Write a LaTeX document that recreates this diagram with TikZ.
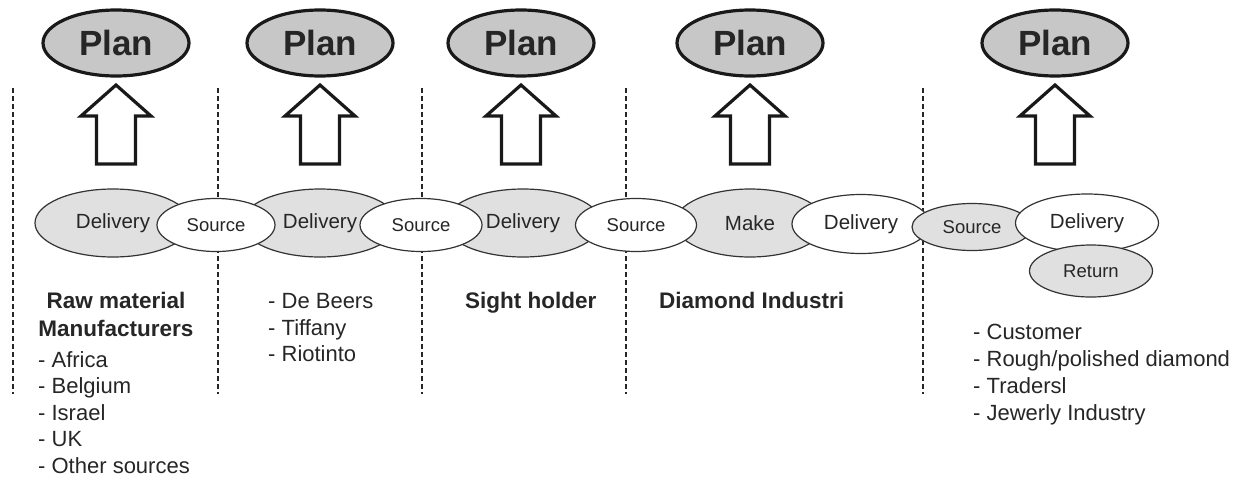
\documentclass[tikz,border=0pt]{standalone}
\usepackage{fontspec}
\setmainfont{Liberation Sans}
\usetikzlibrary{shapes.geometric,positioning}

\begin{document}
\begin{tikzpicture}[x=1pt,y=-1pt,
  every node/.style={text=black!85},
  plan/.style={ellipse,draw=black!90,line width=3.2pt,fill=black!22,inner sep=0pt,
    minimum width=146pt,minimum height=66pt,font=\fontsize{35}{35}\selectfont\bfseries},
  uparrow/.style={draw=black!90,line width=3.2pt,fill=white,line join=miter},
  divider/.style={draw=black!85,line width=2.4pt,dash pattern=on 5pt off 3pt},
  dims/.style 2 args={minimum width=#1pt,minimum height=#2pt},
  stage/.style={ellipse,draw=black!80,line width=1.2pt,inner sep=0pt,font=\fontsize{20.5}{20.5}\selectfont},
  grey/.style={stage,fill=black!12},
  white/.style={stage,fill=white},
  small/.style={font=\fontsize{18.5}{18.5}\selectfont},
  head/.style={anchor=base,inner sep=0pt,font=\fontsize{22.5}{22.5}\selectfont\bfseries},
  item/.style={anchor=base west,inner sep=0pt,font=\fontsize{22}{22}\selectfont}]

  \useasboundingbox (0,0) rectangle (1245,479);

  % dividers between the stages
  \foreach \x in {13,218,422,626,923}
    \draw[divider] (\x,88) -- (\x,394);

  % plan on top of every stage
  \foreach \x [count=\i] in {116,320,521,750,1055} {
    \node[plan] (plan\i) at (\x,43) {Plan};
    \draw[uparrow] (\x,85) -- ++(35,31) -- ++(-15.5,0) -- ++(0,48)
      -- ++(-39,0) -- ++(0,-48) -- ++(-15.5,0) -- cycle;
  }

  % chain of processes
  \node[grey,dims={156}{68}] (del1) at (113,223) {Delivery};
  \node[grey,dims={156}{68}] (del2) at (320,223) {Delivery};
  \node[grey,dims={156}{68}] (del3) at (523,223) {Delivery};
  \node[grey,dims={150}{68}] (make) at (750,223) {Make};
  \node[white,small,dims={118}{53}] (src1) at (216,225) {Source};
  \node[white,small,dims={122}{53}] (src2) at (421,225) {Source};
  \node[white,small,dims={121}{53}] (src3) at (636,225) {Source};
  \node[white,dims={138}{59}] (del4) at (861,224) {Delivery};
  \node[grey,small,dims={120}{47}] (src4) at (972,227) {Source};
  \node[white,dims={143}{58}] (del5) at (1087,223) {Delivery};
  \node[grey,small,dims={123}{52}] (ret) at (1091,271) {Return};

  % who is who
  \node[head] (raw) at (116,308) {Raw material};
  \node[head] (manu) at (116,336) {Manufacturers};
  \foreach \t [count=\i from 0] in {- Africa,- Belgium,- Israel,- UK,- Other sources}
    \node[item] (raw\i) at (38,367+26.5*\i) {\t};

  \foreach \t [count=\i from 0] in {- De Beers,- Tiffany,- Riotinto}
    \node[item] (mine\i) at (268,308.3+26.7*\i) {\t};

  \node[head,anchor=base west] (sight) at (465,308) {Sight holder};
  \node[head,anchor=base west] (indus) at (659,308) {Diamond Industri};

  \foreach \t [count=\i from 0] in {- Customer,- Rough/polished diamond,- Tradersl,- Jewerly Industry}
    \node[item] (cust\i) at (973,339+27*\i) {\t};
\end{tikzpicture}
\end{document}
